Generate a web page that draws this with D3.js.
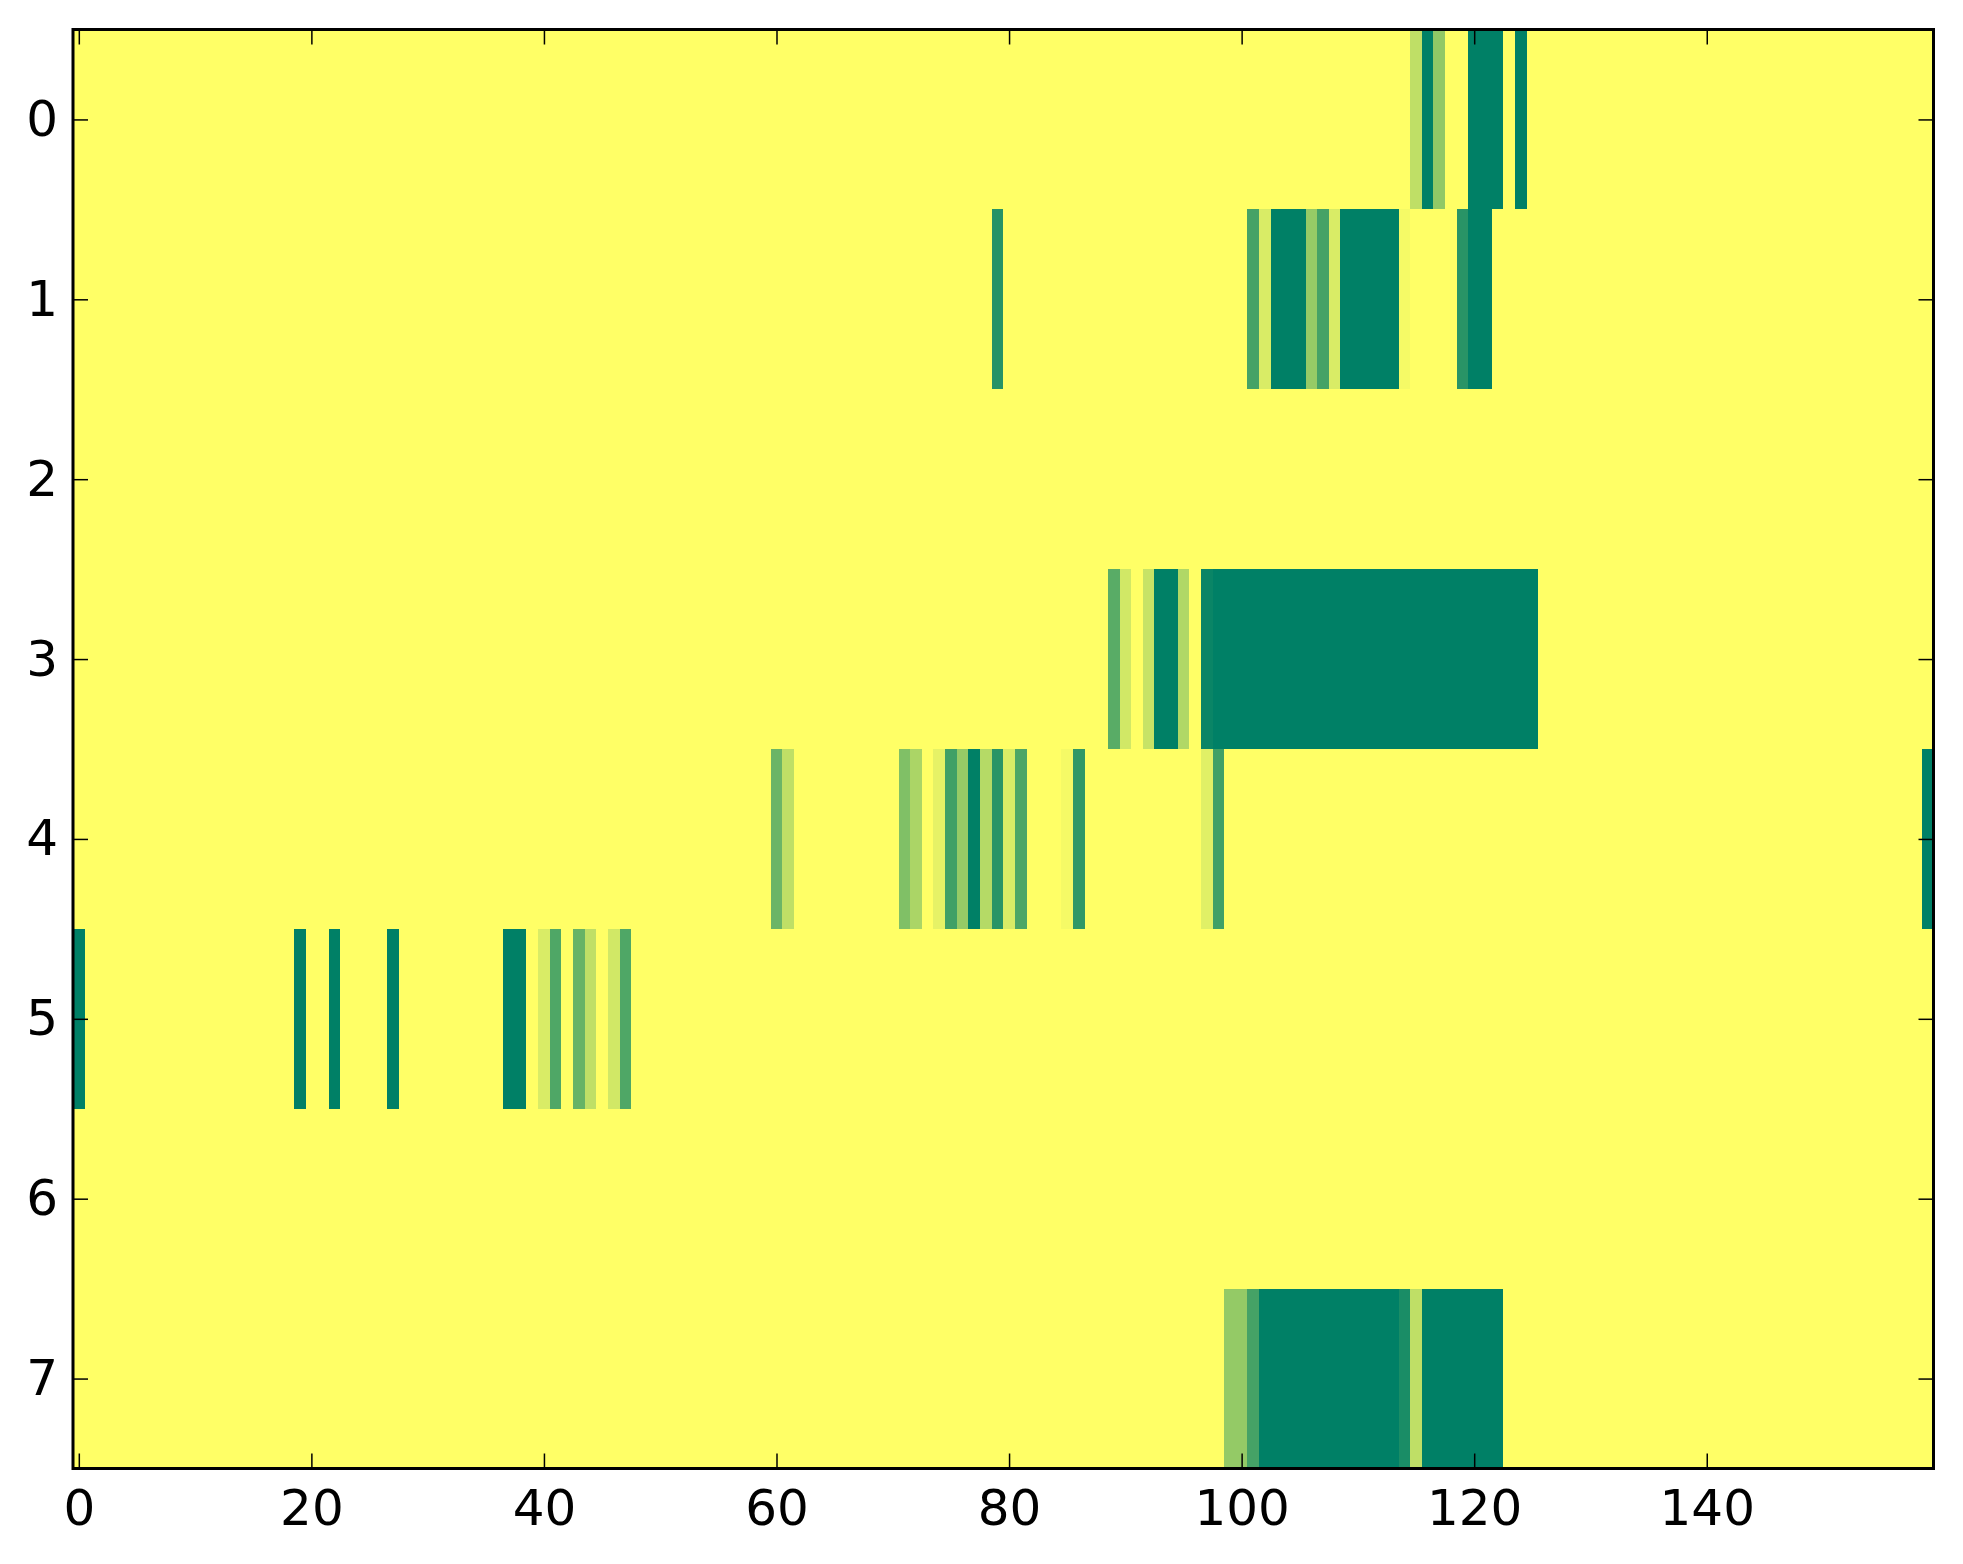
<!DOCTYPE html>
<html>
<head>
<meta charset="utf-8">
<style>
  body { margin: 0; background: #fff; }
  text { font-family: "DejaVu Sans", sans-serif; }
</style>
</head>
<body>
<svg width="1963" height="1564"></svg>
<script src="https://d3js.org/d3.v7.min.js"></script>
<script>

// grid size
var nCols = 160,
    nRows = 8;

// non-zero cells per row as runs: [firstCol, lastCol, value]  (value 0..1, 1 = dark green)
var row0 = [[115, 115, 0.25], [116, 116, 1], [117, 117, 0.43], [120, 122, 1], [124, 124, 1]];
var row1 = [[79, 79, 0.85], [101, 101, 0.73], [102, 102, 0.15], [103, 105, 1], [106, 106, 0.41],
            [107, 107, 0.73], [108, 108, 0.15], [109, 113, 1], [114, 114, 0.04], [119, 119, 0.84],
            [120, 121, 1]];
var row2 = [];
var row3 = [[89, 89, 0.65], [90, 90, 0.18], [92, 92, 0.22], [93, 94, 1], [95, 95, 0.31],
            [97, 97, 0.96], [98, 125, 1]];
var row4 = [[60, 60, 0.58], [61, 61, 0.25], [71, 71, 0.5], [72, 72, 0.33], [74, 74, 0.1],
            [75, 75, 0.75], [76, 76, 0.41], [77, 77, 1], [78, 78, 0.29], [79, 79, 0.84],
            [80, 80, 0.15], [81, 81, 0.7], [85, 85, 0.04], [86, 86, 0.81], [97, 97, 0.12],
            [98, 98, 0.75], [159, 159, 1]];
var row5 = [[0, 0, 1], [19, 19, 1], [22, 22, 1], [27, 27, 1], [37, 38, 1], [40, 40, 0.15],
            [41, 41, 0.69], [43, 43, 0.6], [44, 44, 0.25], [46, 46, 0.18], [47, 47, 0.69]];
var row6 = [];
var row7 = [[99, 100, 0.42], [101, 101, 0.73], [102, 113, 1], [114, 114, 0.9], [115, 115, 0.25],
            [116, 122, 1]];

var rows = [row0, row1, row2, row3, row4, row5, row6, row7];

var xTicks = [0, 20, 40, 60, 80, 100, 120, 140],
    yTicks = [0, 1, 2, 3, 4, 5, 6, 7];

// expand runs into a full grid
var cells = [];
rows.forEach(function(runs, r) {
  var vals = new Array(nCols).fill(0);
  runs.forEach(function(run) {
    for (var c = run[0]; c <= run[1]; c++) vals[c] = run[2];
  });
  vals.forEach(function(v, c) { cells.push({row: r, col: c, value: v}); });
});

var svg = d3.select("svg");

var plotLeft = 73, plotRight = 1933.5, plotTop = 29.5, plotBottom = 1468.5;

var x = d3.scaleLinear().domain([-0.5, nCols - 0.5]).range([plotLeft, plotRight]),
    y = d3.scaleLinear().domain([-0.5, nRows - 0.5]).range([plotTop, plotBottom]);

// summer_r: low = yellow, high = green
var color = d3.scaleSequential(d3.interpolateRgb("#ffff66", "#008066")).domain([0, 1]);

svg.append("g")
    .attr("shape-rendering", "crispEdges")
  .selectAll("rect")
  .data(cells)
  .enter().append("rect")
    .attr("x", function(d) { return x(d.col - 0.5); })
    .attr("y", function(d) { return y(d.row - 0.5); })
    .attr("width", function(d) { return x(d.col + 0.5) - x(d.col - 0.5) + 0.5; })
    .attr("height", function(d) { return y(d.row + 0.5) - y(d.row - 0.5) + 0.5; })
    .attr("fill", function(d) { return color(d.value); });

var tick = 15;

function style(g) {
  g.select(".domain").remove();
  g.selectAll(".tick line").attr("stroke", "#000").attr("stroke-width", 1.5);
  g.selectAll(".tick text").attr("fill", "#000").style("font-size", "50px")
      .style("font-family", "'DejaVu Sans', sans-serif");
}

svg.append("g")
    .attr("transform", "translate(0," + plotBottom + ")")
    .call(d3.axisBottom(x).tickValues(xTicks).tickSize(-tick).tickPadding(21))
    .call(style);

svg.append("g")
    .attr("transform", "translate(0," + plotTop + ")")
    .call(d3.axisTop(x).tickValues(xTicks).tickSize(-tick).tickFormat(""))
    .call(style);

svg.append("g")
    .attr("transform", "translate(" + plotLeft + ",0)")
    .call(d3.axisLeft(y).tickValues(yTicks).tickSize(-tick).tickPadding(15))
    .call(style);

svg.append("g")
    .attr("transform", "translate(" + plotRight + ",0)")
    .call(d3.axisRight(y).tickValues(yTicks).tickSize(-tick).tickFormat(""))
    .call(style);

// frame
svg.append("rect")
    .attr("x", plotLeft)
    .attr("y", plotTop)
    .attr("width", plotRight - plotLeft)
    .attr("height", plotBottom - plotTop)
    .attr("fill", "none")
    .attr("stroke", "#000")
    .attr("stroke-width", 3);

</script>
</body>
</html>
